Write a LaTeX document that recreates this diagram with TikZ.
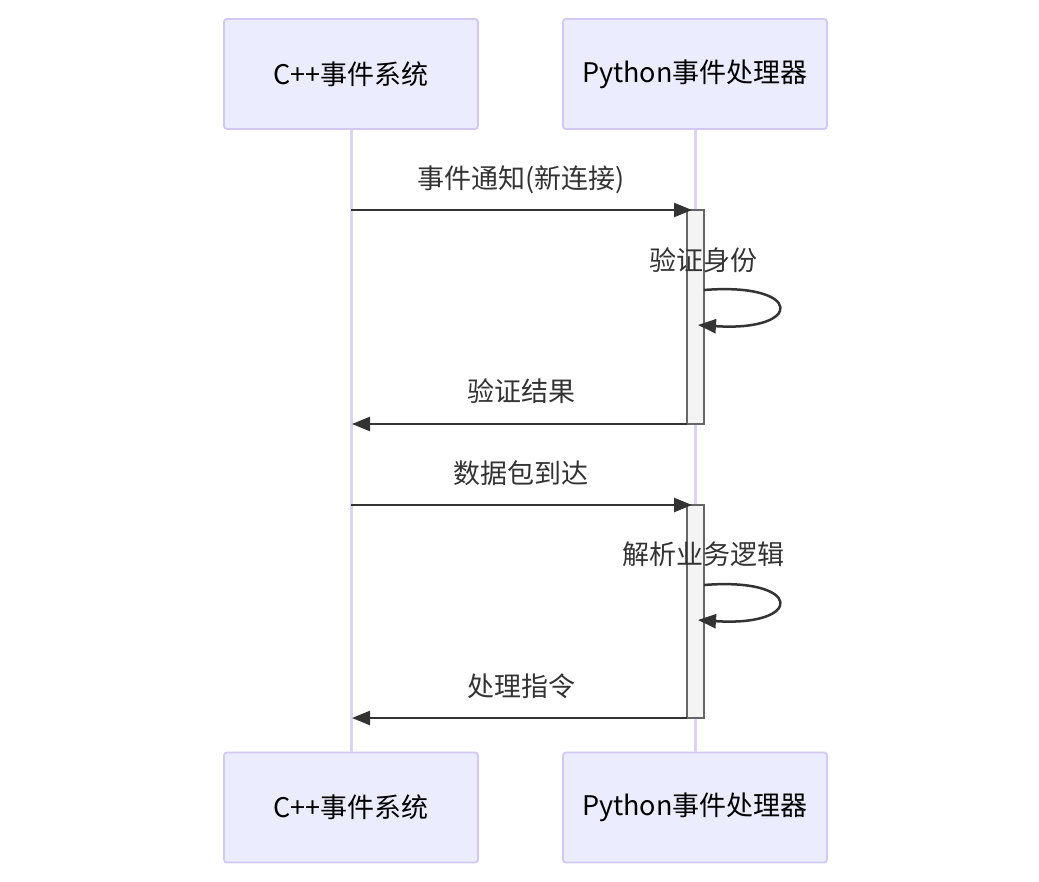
\documentclass[tikz,border=0pt]{standalone}
\usepackage{fontspec}
\setmainfont{Noto Sans CJK SC}
\usetikzlibrary{arrows.meta}
\definecolor{actfill}{HTML}{ECECFF}
\definecolor{actdraw}{HTML}{D3C8F2}
\definecolor{lifeline}{HTML}{DCD3F7}
\definecolor{msg}{HTML}{333333}
\definecolor{actvfill}{HTML}{F4F4F4}
\definecolor{actvdraw}{HTML}{666666}
\tikzset{
  actor/.style={draw=actdraw, fill=actfill, line width=1.8pt, rounded corners=3pt, minimum height=110pt, font=\fontsize{27}{32}\selectfont, text=black, inner sep=0pt},
  life/.style={draw=lifeline, line width=3pt},
  activ/.style={draw=actvdraw, fill=actvfill, line width=1.5pt, minimum width=17pt, inner sep=0pt},
  msgline/.style={draw=msg, line width=2.5pt, -{Triangle[length=18pt,width=14pt]}},
  msglabel/.style={text=msg, font=\fontsize{27}{32}\selectfont, inner sep=0pt},
}
\begin{document}
\begin{tikzpicture}[x=1pt,y=-1pt]
\useasboundingbox (0,0) rectangle (1039,882);
% actors
\node[actor, minimum width=254pt] (a1top) at (351,74) {C++事件系统};
\node[actor, minimum width=264pt] (a2top) at (695,74) {Python事件处理器};
\node[actor, minimum width=254pt] (a1bot) at (351,807.5) {C++事件系统};
\node[actor, minimum width=264pt] (a2bot) at (695,807.5) {Python事件处理器};
% lifelines
\draw[life] (a1top.south) -- (a1bot.north);
\draw[life] (a2top.south) -- (a2bot.north);
% activations
\node[activ, minimum height=214pt] (act1) at (695.5,317) {};
\node[activ, minimum height=213pt] (act2) at (695.5,611.5) {};
% coordinates
\coordinate (c1) at (351,210);
\coordinate (p1) at (692,210);
\coordinate (c2) at (352,424);
\coordinate (p2) at (687,424);
\coordinate (c3) at (351,505);
\coordinate (p3) at (692,505);
\coordinate (c4) at (352,718);
\coordinate (p4) at (687,718);
\coordinate (s1a) at (704,290);
\coordinate (s1b) at (698,325);
\coordinate (s2a) at (704,585);
\coordinate (s2b) at (698,620);
% messages
\draw[msgline] (c1) -- (p1);
\node[msglabel] (l1) at (521,180) {事件通知(新连接)};
\draw[msgline] (s1a) .. controls (804,282) and (804,332) .. (s1b);
\node[msglabel] (l2) at (703,260) {验证身份};
\draw[msgline] (p2) -- (c2);
\node[msglabel] (l3) at (521,391) {验证结果};
\draw[msgline] (c3) -- (p3);
\node[msglabel] (l4) at (521,473) {数据包到达};
\draw[msgline] (s2a) .. controls (804,577) and (804,627) .. (s2b);
\node[msglabel] (l5) at (703,554) {解析业务逻辑};
\draw[msgline] (p4) -- (c4);
\node[msglabel] (l6) at (521,686) {处理指令};
\end{tikzpicture}
\end{document}
